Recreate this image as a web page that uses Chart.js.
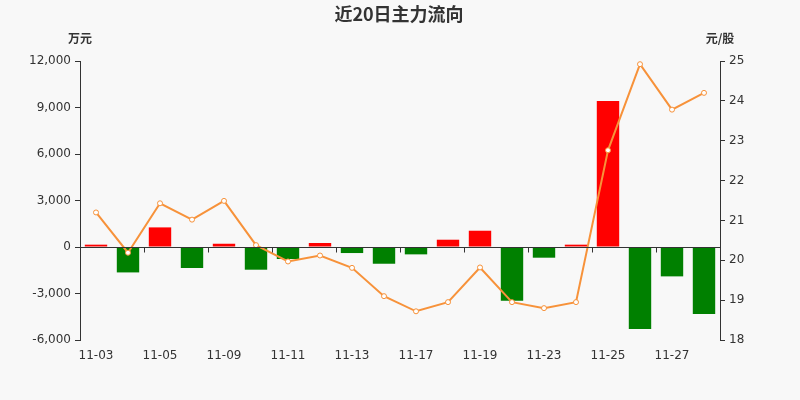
<!DOCTYPE html>
<html>
<head>
<meta charset="utf-8">
<script src="https://cdn.jsdelivr.net/npm/chart.js@4/dist/chart.umd.min.js"></script>
<style>
html,body{margin:0;padding:0;background:#f8f8f8;}
#wrap{width:800px;height:400px;position:relative;}
</style>
</head>
<body>
<div id="wrap"><canvas id="c" width="800" height="400"></canvas></div>
<script>
const titleText = '近20日主力流向';
const leftUnit = '万元';
const rightUnit = '元/股';
const categories = ['11-03','11-04','11-05','11-08','11-09','11-10','11-11','11-12','11-13','11-16','11-17','11-18','11-19','11-22','11-23','11-24','11-25','11-26','11-27','11-28'];
const flowValues = [150,-1640,1265,-1355,210,-1465,-775,260,-390,-1080,-475,470,1050,-3465,-690,150,9420,-5290,-1895,-4320];
const priceValues = [21.20,20.19,21.43,21.02,21.49,20.38,19.97,20.12,19.81,19.10,18.72,18.95,19.82,18.95,18.80,18.95,22.76,24.92,23.78,24.20];
const leftTicks = [-6000,-3000,0,3000,6000,9000,12000];
const rightTicks = [18,19,20,21,22,23,24,25];

const FONT = '"DejaVu Sans", sans-serif';

const overlay = {
  id: 'overlay',
  beforeDraw(chart) {
    const c = chart.ctx;
    c.save();
    c.fillStyle = '#f8f8f8';
    c.fillRect(0, 0, chart.width, chart.height);
    c.restore();
  },
  afterDatasetsDraw(chart) {
    const c = chart.ctx;
    const x = chart.scales.x, y = chart.scales.y;
    const y0 = Math.round(y.getPixelForValue(0)) + 0.5;
    c.save();
    c.strokeStyle = '#333';
    c.lineWidth = 1;
    c.beginPath();
    c.moveTo(chart.chartArea.left, y0);
    c.lineTo(chart.chartArea.right, y0);
    for (let i = 2; i < categories.length; i += 2) {
      const px = Math.round((x.getPixelForValue(i - 1) + x.getPixelForValue(i)) / 2) + 0.5;
      c.moveTo(px, y0);
      c.lineTo(px, y0 + 5);
    }
    c.stroke();
    c.restore();
  },
  afterDraw(chart) {
    const c = chart.ctx;
    const a = chart.chartArea;
    c.save();
    c.fillStyle = '#333';
    c.textAlign = 'center';
    c.textBaseline = 'middle';
    c.font = 'bold 18px "Noto Sans CJK SC", sans-serif';
    c.fillText(titleText, 399, 14);
    c.font = 'bold 12px "Noto Sans CJK SC", sans-serif';
    c.fillText(leftUnit, a.left, 38);
    c.fillText(rightUnit, a.right, 38);
    c.restore();
  }
};

new Chart(document.getElementById('c'), {
  data: {
    labels: categories,
    datasets: [
      {
        type: 'line',
        label: 'price',
        data: priceValues,
        yAxisID: 'y1',
        borderColor: '#f7923a',
        borderWidth: 2,
        pointRadius: 2.5,
        pointBackgroundColor: '#ffffff',
        pointBorderColor: '#f7923a',
        pointBorderWidth: 1,
        tension: 0,
        order: 0
      },
      {
        type: 'bar',
        label: 'flow',
        data: flowValues,
        yAxisID: 'y',
        backgroundColor: flowValues.map(v => v >= 0 ? '#ff0000' : '#008000'),
        borderWidth: 0,
        barPercentage: 0.7,
        categoryPercentage: 1,
        order: 1
      }
    ]
  },
  plugins: [overlay],
  options: {
    responsive: false,
    animation: false,
    events: [],
    layout: { padding: { top: 61, left: 0, right: 0, bottom: 0 } },
    plugins: { legend: { display: false }, title: { display: false }, tooltip: { enabled: false } },
    scales: {
      x: {
        type: 'category',
        offset: true,
        grid: { display: false },
        border: { display: false },
        ticks: {
          autoSkip: false,
          maxRotation: 0,
          color: '#333',
          font: { family: FONT, size: 12 },
          padding: 1,
          callback: function(v, i) { return i % 2 === 0 ? categories[i] : ''; }
        },
        afterFit(s) { s.height = 60; }
      },
      y: {
        position: 'left',
        min: -6000, max: 12000,
        afterBuildTicks(s) { s.ticks = leftTicks.map(v => ({ value: v })); },
        grid: { drawOnChartArea: false, drawTicks: true, tickLength: 5, color: '#333' },
        border: { display: true, color: '#333' },
        ticks: {
          color: '#333',
          font: { family: FONT, size: 12 },
          padding: 4,
          callback: v => v.toLocaleString('en-US')
        },
        afterFit(s) { s.width = 80; }
      },
      y1: {
        position: 'right',
        min: 18, max: 25,
        afterBuildTicks(s) { s.ticks = rightTicks.map(v => ({ value: v })); },
        grid: { drawOnChartArea: false, drawTicks: true, tickLength: 5, color: '#333' },
        border: { display: true, color: '#333' },
        ticks: {
          color: '#333',
          font: { family: FONT, size: 12 },
          padding: 4
        },
        afterFit(s) { s.width = 80; }
      }
    }
  }
});
</script>
</body>
</html>
